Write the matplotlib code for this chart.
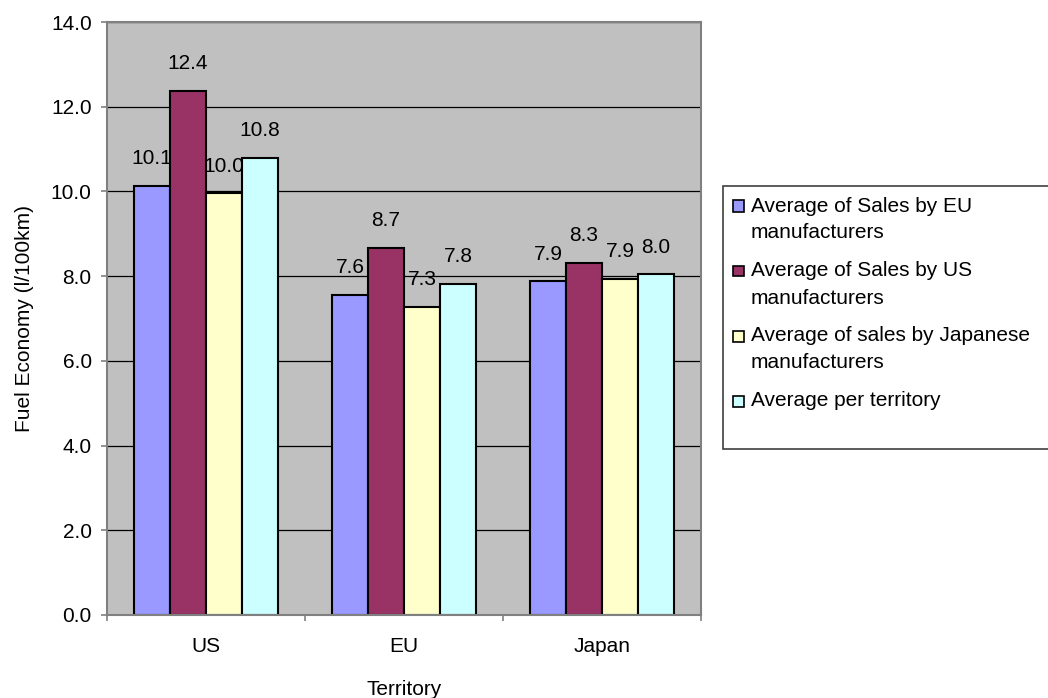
import numpy as np
import matplotlib.pyplot as plt
from matplotlib.patches import Rectangle

plt.rcParams['font.family'] = ['Liberation Sans', 'DejaVu Sans']
plt.rcParams['font.size'] = 15

# data
territories = ["US", "EU", "Japan"]
series_names = [
    "Average of Sales by EU\nmanufacturers",
    "Average of Sales by US\nmanufacturers",
    "Average of sales by Japanese\nmanufacturers",
    "Average per territory",
]
eu_makers = [10.13, 7.56, 7.88]
us_makers = [12.37, 8.67, 8.31]
jp_makers = [9.96, 7.27, 7.94]
per_territory = [10.80, 7.82, 8.04]
colors = ["#9999FF", "#993366", "#FFFFCC", "#CCFFFF"]

series = [eu_makers, us_makers, jp_makers, per_territory]

W, H = 1048, 698
fig = plt.figure(figsize=(W / 100, H / 100), dpi=100)
ax = fig.add_axes([107 / W, (H - 615) / H, (701 - 107) / W, (615 - 22) / H])
ax.set_facecolor("#C0C0C0")
ax.set_axisbelow(True)

x = np.arange(len(territories))
bw = 0.182
for i, (vals, c) in enumerate(zip(series, colors)):
    pos = x + (i - 1.5) * bw
    ax.bar(pos, vals, width=bw, color=c, edgecolor="black", linewidth=1.5, zorder=2)
    for px, v in zip(pos, vals):
        ax.annotate(f"{v:.1f}", (px, v), xytext=(0, 19.5), textcoords="offset points",
                    ha="center", va="center", zorder=3)

ax.set_xlim(-0.5, 2.5)
ax.set_ylim(0, 14)
ax.set_yticks(np.arange(0, 15, 2))
ax.set_yticklabels([f"{t:.1f}" for t in np.arange(0, 15, 2)])
ax.yaxis.grid(True, color="black", linewidth=0.9)

ax.set_xticks(x)
ax.set_xticklabels(territories)
ax.set_xticks([-0.5, 0.5, 1.5, 2.5], minor=True)
ax.tick_params(axis="x", which="major", length=0, pad=16)
ax.tick_params(axis="x", which="minor", length=4, width=1.2, color="#808080")
ax.tick_params(axis="y", length=4, width=1.2, color="#808080", pad=7)

for sp in ax.spines.values():
    sp.set_color("#808080")
    sp.set_linewidth(1.5)

ax.set_xlabel("Territory", labelpad=17)
ax.set_ylabel("Fuel Economy (l/100km)", labelpad=12)

# legend drawn by hand so that markers sit on the first line of each entry
def fx(px):
    return px / W

def fy(py):
    return 1 - py / H

fig.add_artist(Rectangle((fx(723), fy(449)), fx(1100) - fx(723), fy(186) - fy(449),
                         transform=fig.transFigure, facecolor="white",
                         edgecolor="#404040", linewidth=1.2))
line_h = 27
gap = 11
y_cur = 206
for name, c in zip(series_names, colors):
    fig.add_artist(Rectangle((fx(733), fy(y_cur + 5.5)), fx(744) - fx(733), fy(y_cur - 5.5) - fy(y_cur + 5.5),
                             transform=fig.transFigure, facecolor=c,
                             edgecolor="black", linewidth=1.2))
    lines = name.split("\n")
    for k, ln in enumerate(lines):
        fig.text(fx(751), fy(y_cur + k * line_h), ln, ha="left", va="center")
    y_cur += len(lines) * line_h + gap

fig.savefig("out.png", dpi=100, facecolor="white")
